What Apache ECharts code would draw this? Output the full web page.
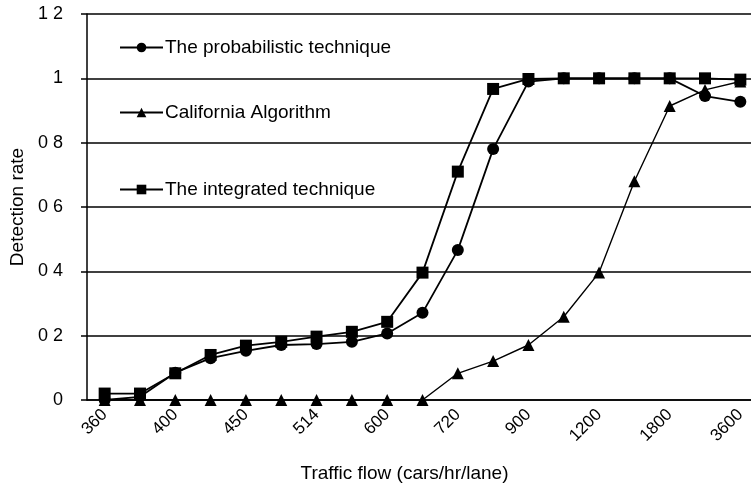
<!DOCTYPE html>
<html>
<head>
<meta charset="utf-8">
<script src="https://cdn.jsdelivr.net/npm/echarts@6/dist/echarts.min.js"></script>
<style>
  html, body { margin: 0; padding: 0; background: #fff; }
  #chart { width: 751px; height: 492px; }
</style>
</head>
<body>
<div id="chart"></div>
<script>
// traffic flow categories (headway 10s .. 1s in half-second steps)
const flows = ['360', '379', '400', '424', '450', '480', '514', '554', '600', '655',
  '720', '800', '900', '1029', '1200', '1440', '1800', '2400', '3600']

const probabilistic = [0.0, 0.01, 0.085, 0.13, 0.153, 0.171, 0.174, 0.181, 0.207, 0.271,
  0.466, 0.78, 0.99, 1.0, 1.0, 1.0, 1.0, 0.945, 0.927]
const california = [0, 0, 0, 0, 0, 0, 0, 0, 0, 0,
  0.083, 0.121, 0.171, 0.259, 0.396, 0.68, 0.914, 0.964, 0.99]
const integrated = [0.02, 0.02, 0.083, 0.14, 0.169, 0.181, 0.197, 0.212, 0.243, 0.396,
  0.71, 0.967, 0.998, 1.0, 1.0, 1.0, 1.0, 1.0, 0.996]

const FONT = '"Liberation Sans", Arial, sans-serif'
const chart = echarts.init(document.getElementById('chart'))

const lineSeries = (name, data, symbol, size, width) => ({
  name,
  type: 'line',
  data,
  symbol,
  symbolSize: size,
  lineStyle: { color: '#000', width },
  itemStyle: { color: '#000' },
  emphasis: { disabled: true },
  animation: false,
})

const legendAt = (name, top) => ({
  data: [name],
  left: 114,
  top,
  orient: 'vertical',
  itemWidth: 43,
  itemHeight: 12,
  itemGap: 0,
  selectedMode: false,
  textStyle: { fontFamily: FONT, fontSize: 19, color: '#000', padding: [0, 0, 0, -3] },
})

chart.setOption({
  animation: false,
  grid: { left: 87, right: -7, top: 14, bottom: 92, outerBoundsMode: 'none' },
  legend: [
    legendAt('The probabilistic technique', 33),
    legendAt('California Algorithm', 98),
    legendAt('The integrated technique', 175),
  ],
  xAxis: {
    type: 'category',
    data: flows,
    boundaryGap: true,
    name: 'Traffic flow (cars/hr/lane)',
    nameLocation: 'middle',
    nameGap: 64,
    nameTextStyle: { fontFamily: FONT, fontSize: 19, color: '#000', padding: [0, 36, 0, 0] },
    axisLine: { lineStyle: { color: '#000', width: 1.5 } },
    axisTick: { interval: 0, length: 6, lineStyle: { color: '#000', width: 1.5 } },
    axisLabel: {
      interval: 1,
      rotate: 45,
      margin: 12,
      fontFamily: FONT,
      fontSize: 17,
      color: '#000',
    },
    splitLine: { show: false },
  },
  yAxis: {
    type: 'value',
    min: 0,
    max: 1.2,
    interval: 0.2,
    name: 'Detection rate',
    nameLocation: 'middle',
    nameGap: 56,
    nameTextStyle: { fontFamily: FONT, fontSize: 19, color: '#000' },
    axisLine: { show: true, lineStyle: { color: '#000', width: 1.5 } },
    axisTick: { show: true, length: 6, lineStyle: { color: '#000', width: 1.5 } },
    axisLabel: {
      margin: 24,
      fontFamily: FONT,
      fontSize: 18,
      color: '#000',
      formatter: v => String(+v.toFixed(1)).replace('.', ' '),
    },
    splitLine: { show: true, lineStyle: { color: '#000', width: 1.5 } },
  },
  series: [
    lineSeries('The probabilistic technique', probabilistic, 'circle', 12, 1.8),
    lineSeries('California Algorithm', california, 'triangle', 12, 1.4),
    lineSeries('The integrated technique', integrated, 'rect', 12, 1.8),
  ],
})
</script>
</body>
</html>
